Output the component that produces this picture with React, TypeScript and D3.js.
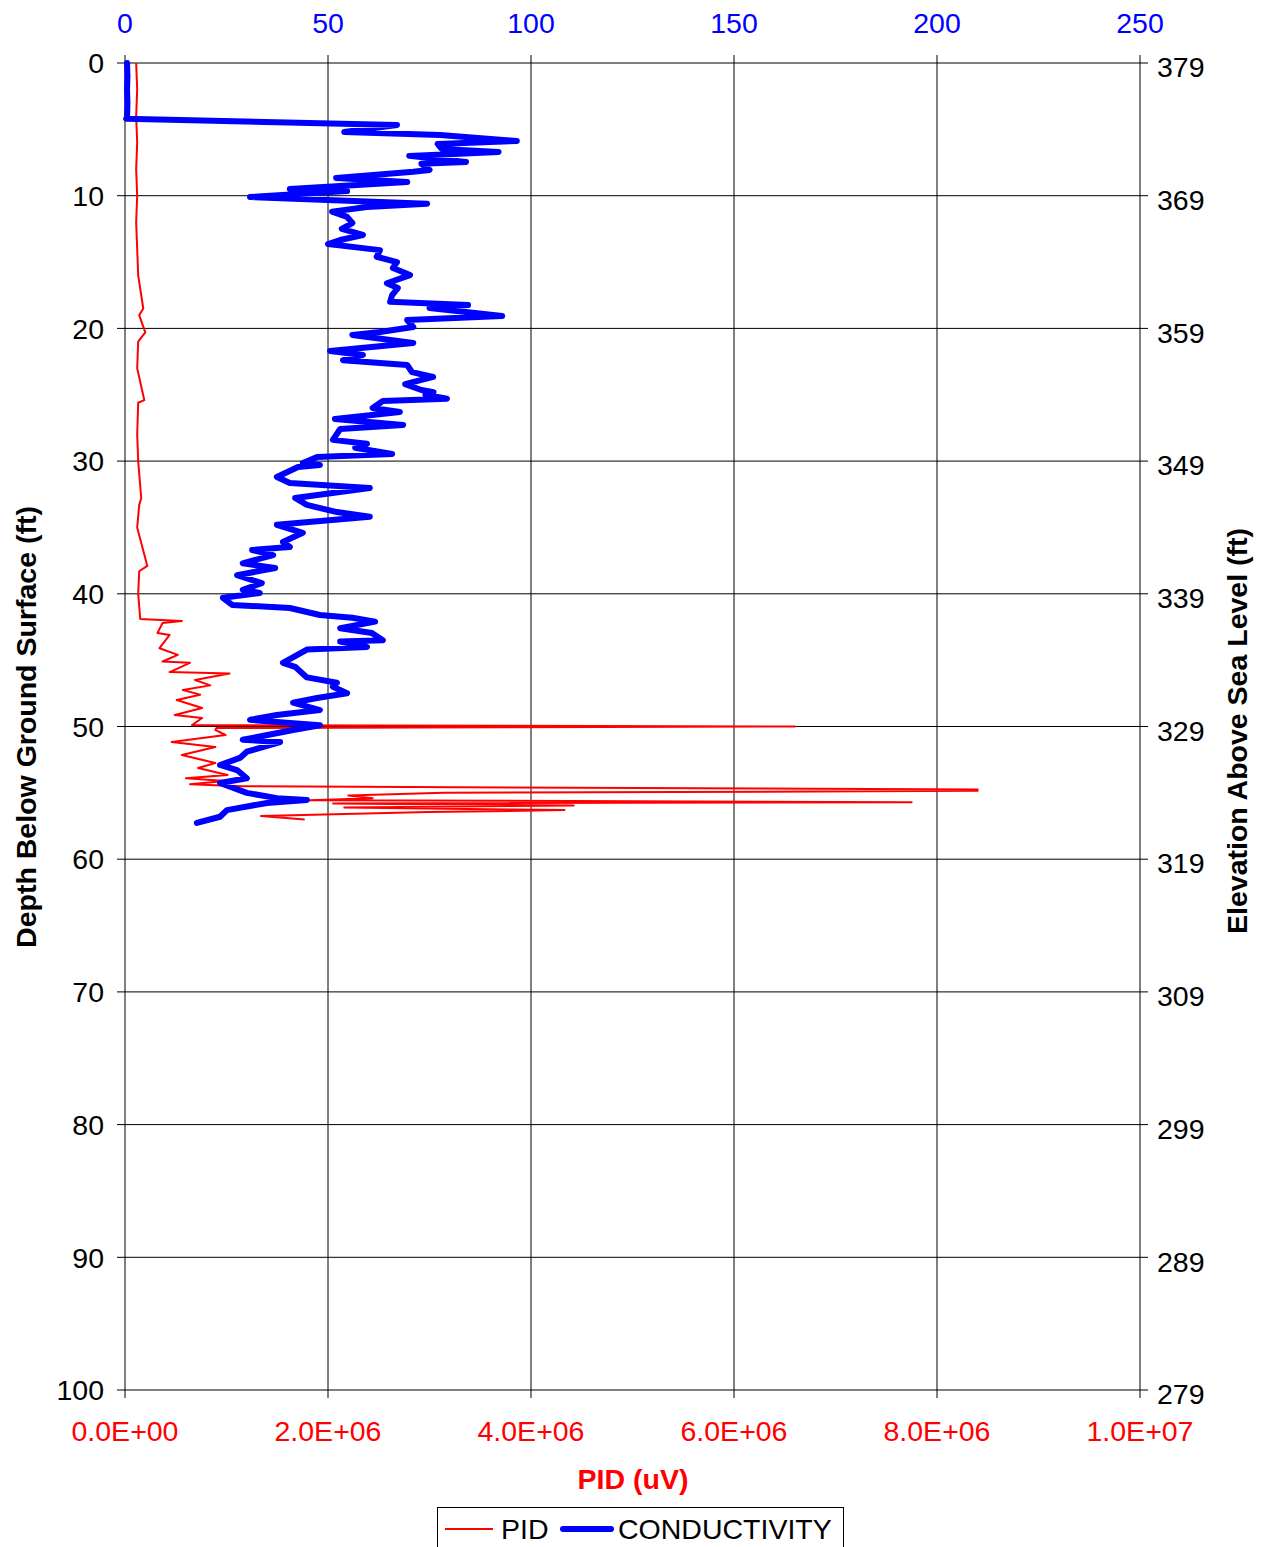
import React from "react";
import * as d3 from "d3";

const depthTicks = [0, 10, 20, 30, 40, 50, 60, 70, 80, 90, 100];
const elevationTop = 379;
const condTicks = [0, 50, 100, 150, 200, 250];
const pidTicks = [0, 2e6, 4e6, 6e6, 8e6, 1e7];

// [depth (ft), conductivity]
const conductivity: [number, number][] = [
  [0, 0.5], [1, 0.6], [2, 0.5], [3, 0.6], [4.1, 0.5], [4.2, 0.3],
  [4.67, 67], [5.2, 54], [5.43, 77.6], [5.88, 96.5], [6.1, 77], [6.48, 78], [6.7, 92], [7.0, 70],
  [7.46, 84], [7.6, 73], [8.06, 75], [8.2, 71], [8.67, 52], [8.97, 69.5], [9.5, 40.6], [9.65, 54.7],
  [10.1, 30.8], [10.6, 74.4], [10.85, 59.6], [11.2, 51], [11.6, 54.7], [12.06, 56], [12.5, 53.4],
  [12.96, 58.6], [13.34, 53], [13.64, 50], [14.1, 62.8], [14.6, 62], [15.0, 67], [15.45, 66],
  [15.98, 70.2], [16.6, 64.5], [16.96, 67.2], [17.5, 65.8], [18.0, 65.3], [18.24, 84.5], [18.46, 75],
  [19.07, 92.9], [19.37, 69.5], [19.9, 71], [20.27, 62.8], [20.5, 56], [21.1, 71], [21.7, 50.5],
  [22.0, 58.6], [22.4, 53.7], [22.76, 69.5], [23.3, 70.7], [23.66, 75.9], [24.2, 69], [24.64, 73],
  [24.8, 76], [25.0, 74], [25.3, 79.3], [25.47, 63.5], [26.0, 61], [26.3, 67.7], [26.83, 51.7],
  [27.28, 68.5], [27.58, 53], [28.4, 51.2], [28.7, 59.6], [29.0, 56.7], [29.46, 65.8], [29.7, 47.3],
  [30.14, 43.8], [30.3, 48], [30.45, 42.6], [31.2, 37.4], [31.65, 40.6], [32.03, 60.3], [32.78, 41.9],
  [33.3, 44.8], [33.84, 52.2], [34.2, 60.3], [34.8, 37.4], [35.4, 43.8], [36.1, 38.9], [36.47, 40.6],
  [36.7, 31.3], [37.08, 36.5], [37.7, 29], [38.06, 37], [38.6, 27.6], [39.2, 33.7], [39.7, 29],
  [39.94, 33.2], [40.3, 24.1], [40.84, 26.4], [41.07, 40.6], [41.6, 48], [41.8, 56], [42.1, 61.6],
  [42.6, 53], [42.95, 60.8], [43.5, 63.5], [43.6, 53], [44.0, 59.6], [44.2, 44.8], [45.2, 38.9],
  [45.5, 41.9], [46.3, 44.8], [46.7, 52.2], [47.0, 51.2], [47.5, 54.7], [47.85, 47.3], [48.2, 41.4],
  [48.76, 48], [49.13, 37.4], [49.5, 30.8], [49.9, 48], [50.26, 41.4], [51.0, 29], [51.17, 38.2],
  [51.9, 30], [52.37, 28.3], [52.9, 23.4], [53.28, 27.6], [53.9, 30], [54.26, 23.4], [55.0, 30],
  [55.4, 37.4], [55.54, 44.8], [55.76, 35], [56.3, 25.1], [56.8, 23.4], [57.27, 17.7],
];

// [depth (ft), PID in millions of uV]
const pid: [number, number][] = [
  [0, 0.11], [2, 0.12], [4, 0.11], [6, 0.12], [8, 0.11], [10, 0.12], [12, 0.11], [14, 0.12],
  [16, 0.13], [17.5, 0.16], [18.5, 0.18], [19, 0.14], [20.3, 0.2], [21, 0.13], [23, 0.12],
  [25.4, 0.19], [25.6, 0.13], [28, 0.12], [30, 0.13], [32.8, 0.16], [33.3, 0.14], [35, 0.12],
  [37.9, 0.22], [38.3, 0.14], [40, 0.13], [41.9, 0.15],
  [42.05, 0.56], [42.2, 0.37], [42.95, 0.32], [43.1, 0.44], [44.1, 0.34], [44.6, 0.52], [45.1, 0.37],
  [45.2, 0.64], [45.9, 0.44], [46.0, 1.03], [46.5, 0.69], [46.9, 0.84], [47.25, 0.57], [47.6, 0.74],
  [48.0, 0.51], [48.6, 0.76], [49.13, 0.49], [49.36, 0.76], [49.9, 0.66],
  [50.0, 6.6], [50.05, 3.9], [50.12, 0.9], [50.26, 0.89], [50.64, 0.99], [51.17, 0.46], [51.55, 0.89],
  [52.15, 0.56], [52.75, 0.89], [53.13, 0.72], [53.66, 1.01], [53.9, 0.6], [54.1, 0.99], [54.35, 0.64],
  [54.5, 1.15], [54.6, 3.8], [54.75, 8.4], [54.85, 8.4], [55.0, 3.14], [55.2, 2.2], [55.4, 2.44],
  [55.55, 1.82], [55.7, 7.75], [55.8, 2.05], [55.95, 4.42], [56.1, 2.16], [56.3, 4.33], [56.45, 2.99],
  [56.75, 1.34], [57.0, 1.77],
];

const W = 1263;
const H = 1547;
const L = 125, R = 1140, T = 63, B = 1390;
const FONT = "Arial, 'Liberation Sans', sans-serif";
const FS = 28.5;

export default function App() {
  const y = d3.scaleLinear().domain([0, 100]).range([T, B]);
  const xc = d3.scaleLinear().domain([0, 250]).range([L, R]);
  const xp = d3.scaleLinear().domain([0, 1e7]).range([L, R]);

  const condLine = d3.line<[number, number]>().x((d) => xc(d[1])).y((d) => y(d[0]))(conductivity) || "";
  const pidLine = d3.line<[number, number]>().x((d) => xp(d[1] * 1e6)).y((d) => y(d[0]))(pid) || "";

  return (
    <svg width={W} height={H} style={{ position: "absolute", left: 0, top: 0, background: "#fff" }} fontFamily={FONT}>
      <rect x={0} y={0} width={W} height={H} fill="#fff" />
      {depthTicks.map((t) => (
        <line key={"h" + t} x1={L} x2={R} y1={y(t)} y2={y(t)} stroke="#000" strokeWidth={1} />
      ))}
      {condTicks.map((t) => (
        <line key={"v" + t} x1={xc(t)} x2={xc(t)} y1={T} y2={B} stroke="#000" strokeWidth={1} />
      ))}
      {depthTicks.map((t) => (
        <g key={"tk" + t}>
          <line x1={L - 8} x2={L} y1={y(t)} y2={y(t)} stroke="#000" />
          <line x1={R} x2={R + 8} y1={y(t)} y2={y(t)} stroke="#000" />
          <text x={104} y={y(t)} dy="0.36em" textAnchor="end" fontSize={FS} fill="#000">{t}</text>
          <text x={1157} y={y(t) + 4} dy="0.36em" textAnchor="start" fontSize={FS} fill="#000">{elevationTop - t}</text>
        </g>
      ))}
      {condTicks.map((t) => (
        <g key={"ct" + t}>
          <line x1={xc(t)} x2={xc(t)} y1={T - 8} y2={T} stroke="#000" />
          <text x={xc(t)} y={23} dy="0.36em" textAnchor="middle" fontSize={FS} fill="#0000FF">{t}</text>
        </g>
      ))}
      {pidTicks.map((t) => (
        <g key={"pt" + t}>
          <line x1={xp(t)} x2={xp(t)} y1={B} y2={B + 8} stroke="#000" />
          <text x={xp(t)} y={1431} dy="0.36em" textAnchor="middle" fontSize={FS} fill="#FF0000">
            {t.toExponential(1).toUpperCase().replace(/E([+-])(\d)$/, "E$10$2")}
          </text>
        </g>
      ))}
      <path d={pidLine} fill="none" stroke="#FF0000" strokeWidth={2} strokeLinejoin="round" />
      <path d={condLine} fill="none" stroke="#0000FF" strokeWidth={6} strokeLinejoin="round" strokeLinecap="round" />
      <text transform={`translate(36,727) rotate(-90)`} textAnchor="middle" fontSize={FS} fontWeight="bold" fill="#000">
        Depth Below Ground Surface (ft)
      </text>
      <text transform={`translate(1247,731) rotate(-90)`} textAnchor="middle" fontSize={FS} fontWeight="bold" fill="#000">
        Elevation Above Sea Level (ft)
      </text>
      <text x={633} y={1479} dy="0.36em" textAnchor="middle" fontSize={FS} fontWeight="bold" fill="#FF0000">PID (uV)</text>
      <rect x={437.5} y={1507.5} width={406} height={60} fill="#fff" stroke="#000" strokeWidth={1} />
      <line x1={445} x2={493} y1={1529} y2={1529} stroke="#FF0000" strokeWidth={2} />
      <text x={501} y={1529} dy="0.36em" fontSize={FS} fill="#000">PID</text>
      <line x1={563} x2={611} y1={1529} y2={1529} stroke="#0000FF" strokeWidth={6} strokeLinecap="round" />
      <text x={618} y={1529} dy="0.36em" fontSize={FS} fill="#000">CONDUCTIVITY</text>
    </svg>
  );
}
